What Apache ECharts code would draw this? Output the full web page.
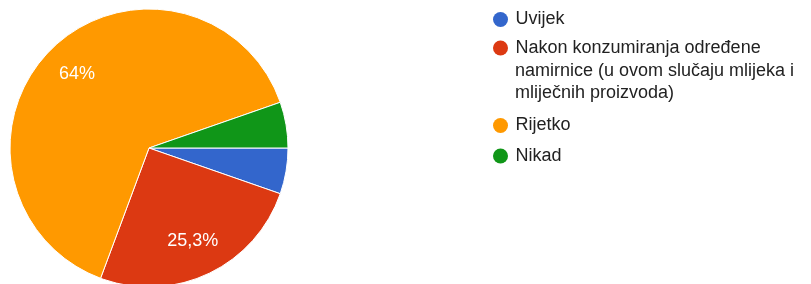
<html lang="hr">
<head>
    <meta charset="UTF-8">
    <script src="https://cdn.jsdelivr.net/npm/echarts@6/dist/echarts.min.js"></script>
    <style type="text/css">
        html, body, #main {
            height: 100%;
            width: 100%;
            margin: 0;
            padding: 0;
            background: #fff;
        }
    </style>
    <title>Pie</title>
</head>
<body>
<div id="main"></div>
<script>
    // odgovori i broj ispitanika
    var categories = ['Uvijek', 'Nakon konzumiranja određene namirnice (u ovom slučaju mlijeka i mliječnih proizvoda)', 'Rijetko', 'Nikad'];
    var counts = [4, 19, 48, 4];
    var colors = ['#3366cc', '#dc3912', '#ff9900', '#109618'];
    // drugi odgovor je prelomljen u tri retka
    var nakonLines = ['Nakon konzumiranja određene', 'namirnice (u ovom slučaju mlijeka i', 'mliječnih proizvoda)'];

    var myChart = echarts.init(document.getElementById('main'));

    var pieData = categories.map(function (name, i) {
        return {name: name, value: counts[i], itemStyle: {color: colors[i]}};
    });
    var labelData = categories.map(function (name, i) {
        return {name: name, value: counts[i], itemStyle: {color: 'rgba(0,0,0,0)'}};
    });

    var font = 'Liberation Sans, Arial, sans-serif';
    var legendText = {
        color: '#222',
        fontFamily: font,
        fontSize: 18
    };
    var legendBase = {
        orient: 'vertical',
        left: 493,
        padding: 0,
        itemWidth: 20,
        itemHeight: 15,
        icon: 'circle',
        itemStyle: {borderWidth: 0},
        textStyle: legendText
    };

    var option = {
        animation: false,
        color: colors,
        legend: [Object.assign({}, legendBase, {
            top: 10.5,
            itemGap: 10.5,
            data: [categories[0], categories[1]],
            formatter: function (name) {
                return name === categories[1] ? nakonLines[0] : name;
            }
        }), Object.assign({}, legendBase, {
            top: 116.5,
            itemGap: 12.5,
            data: [categories[2], categories[3]]
        })],
        graphic: [{
            type: 'text',
            left: 515,
            top: 60,
            style: {
                text: nakonLines.slice(1).join('\n'),
                fill: '#222',
                font: '18px ' + font,
                lineHeight: 22
            }
        }],
        series: [{
            type: 'pie',
            center: [149, 148],
            radius: 139,
            startAngle: 0,
            clockwise: true,
            silent: true,
            itemStyle: {borderColor: '#fff', borderWidth: 1},
            label: {show: false},
            labelLine: {show: false},
            data: pieData
        }, {
            type: 'pie',
            center: [149, 148],
            radius: [61, 139],
            startAngle: 0,
            clockwise: true,
            silent: true,
            avoidLabelOverlap: false,
            label: {
                show: true,
                position: 'inside',
                color: '#fff',
                fontFamily: font,
                fontSize: 18,
                formatter: function (p) {
                    if (p.percent < 10) return '';
                    return (Math.round(p.percent * 10) / 10).toString().replace('.', ',') + '%';
                }
            },
            labelLine: {show: false},
            data: labelData
        }]
    };

    myChart.setOption(option);
</script>
</body>
</html>
